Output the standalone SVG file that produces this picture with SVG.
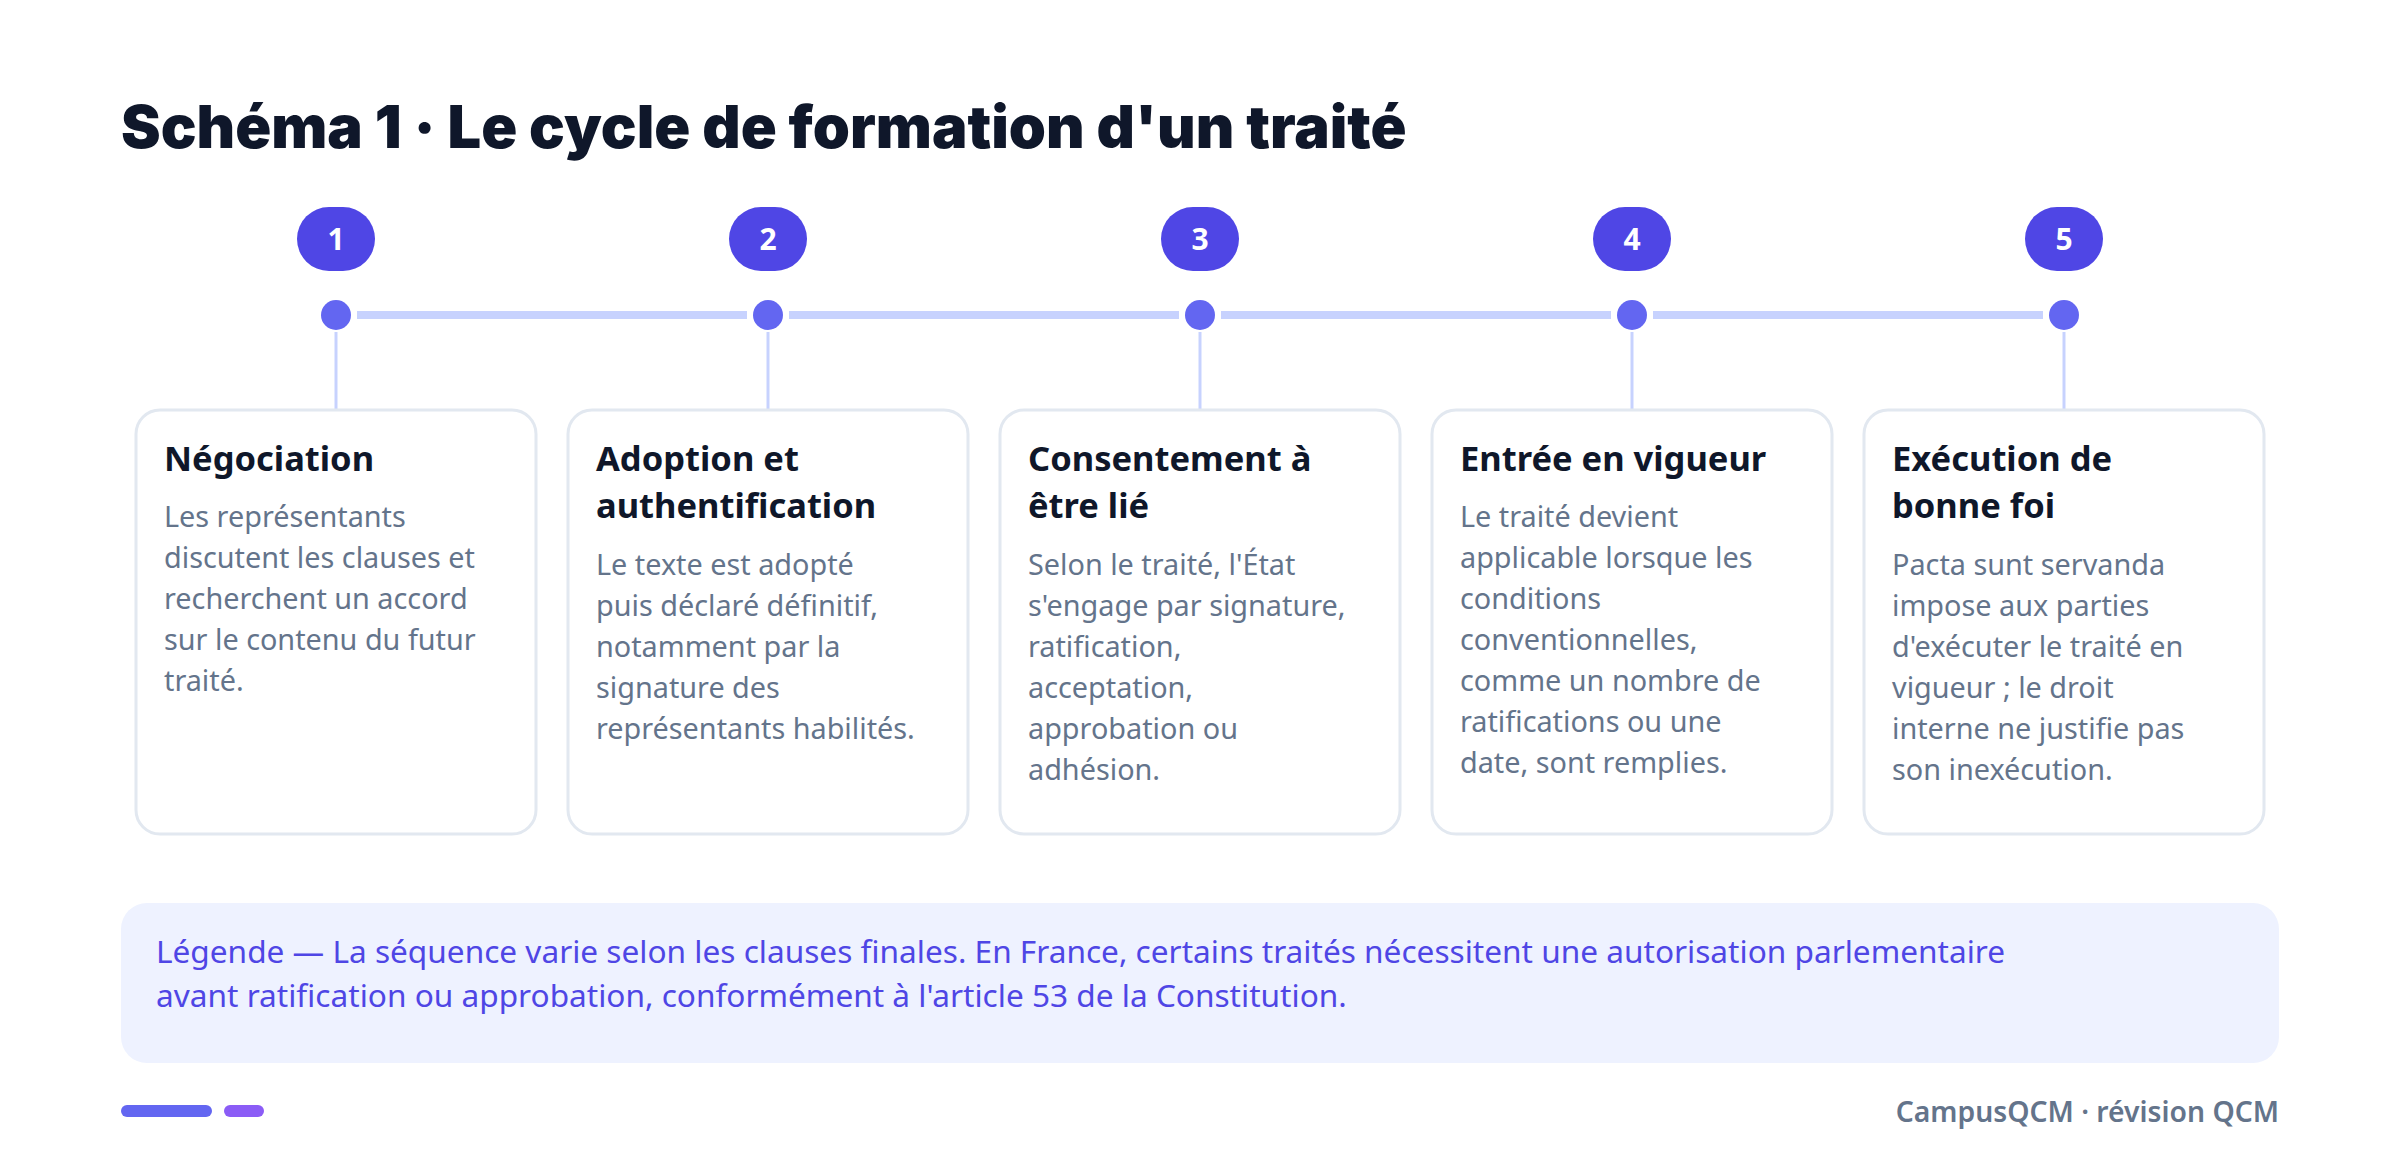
<svg xmlns="http://www.w3.org/2000/svg" width="2400" height="1172" viewBox="0 0 2400 1172">
<style>
.title{font-family:Inter,"Noto Sans",sans-serif;font-weight:900;font-size:59.5px;fill:#0f172a}
.badge{fill:#4f46e5}
.bnum{font-family:"Noto Sans",sans-serif;font-weight:700;font-size:30px;fill:#ffffff;text-anchor:middle}
.dot{fill:#6366f1}
.rail{stroke:#c7d2fe;stroke-width:8;fill:none}
.stem{stroke:#c7d2fe;stroke-width:3;fill:none}
.card{fill:#ffffff;stroke:#e2e8f0;stroke-width:3}
.ct{font-family:"Noto Sans",sans-serif;font-weight:700;font-size:34.5px;fill:#0f172a}
.cb{font-family:"Noto Sans",sans-serif;font-size:28.8px;fill:#64748b}
.leg{font-family:"Noto Sans",sans-serif;font-size:31.6px;fill:#4f46e5}
.foot{font-family:"Noto Sans",sans-serif;font-weight:600;font-size:28.3px;fill:#64748b;text-anchor:end}
</style>
<rect width="2400" height="1172" fill="#ffffff"/>
<text class="title" x="121" y="148">Schéma 1 · Le cycle de formation d'un traité</text>

<g id="connectors">
<line class="rail" x1="357" y1="315" x2="747" y2="315"/>
<line class="rail" x1="789" y1="315" x2="1179" y2="315"/>
<line class="rail" x1="1221" y1="315" x2="1611" y2="315"/>
<line class="rail" x1="1653" y1="315" x2="2043" y2="315"/>
<line class="stem" x1="336" y1="332" x2="336" y2="410"/>
<line class="stem" x1="768" y1="332" x2="768" y2="410"/>
<line class="stem" x1="1200" y1="332" x2="1200" y2="410"/>
<line class="stem" x1="1632" y1="332" x2="1632" y2="410"/>
<line class="stem" x1="2064" y1="332" x2="2064" y2="410"/>
</g>

<g id="step1">
<rect class="badge" x="297" y="207" width="78" height="64" rx="32"/>
<text class="bnum" x="336" y="250">1</text>
<circle class="dot" cx="336" cy="315" r="15"/>
<rect class="card" x="136" y="410" width="400" height="424" rx="24"/>
<text class="ct" x="164" y="471">Négociation</text>
<text class="cb" x="164" y="527">Les représentants</text>
<text class="cb" x="164" y="568">discutent les clauses et</text>
<text class="cb" x="164" y="609">recherchent un accord</text>
<text class="cb" x="164" y="650">sur le contenu du futur</text>
<text class="cb" x="164" y="691">traité.</text>
</g>

<g id="step2">
<rect class="badge" x="729" y="207" width="78" height="64" rx="32"/>
<text class="bnum" x="768" y="250">2</text>
<circle class="dot" cx="768" cy="315" r="15"/>
<rect class="card" x="568" y="410" width="400" height="424" rx="24"/>
<text class="ct" x="596" y="471">Adoption et</text>
<text class="ct" x="596" y="518">authentification</text>
<text class="cb" x="596" y="575">Le texte est adopté</text>
<text class="cb" x="596" y="616">puis déclaré définitif,</text>
<text class="cb" x="596" y="657">notamment par la</text>
<text class="cb" x="596" y="698">signature des</text>
<text class="cb" x="596" y="739">représentants habilités.</text>
</g>

<g id="step3">
<rect class="badge" x="1161" y="207" width="78" height="64" rx="32"/>
<text class="bnum" x="1200" y="250">3</text>
<circle class="dot" cx="1200" cy="315" r="15"/>
<rect class="card" x="1000" y="410" width="400" height="424" rx="24"/>
<text class="ct" x="1028" y="471">Consentement à</text>
<text class="ct" x="1028" y="518">être lié</text>
<text class="cb" x="1028" y="575">Selon le traité, l'État</text>
<text class="cb" x="1028" y="616">s'engage par signature,</text>
<text class="cb" x="1028" y="657">ratification,</text>
<text class="cb" x="1028" y="698">acceptation,</text>
<text class="cb" x="1028" y="739">approbation ou</text>
<text class="cb" x="1028" y="780">adhésion.</text>
</g>

<g id="step4">
<rect class="badge" x="1593" y="207" width="78" height="64" rx="32"/>
<text class="bnum" x="1632" y="250">4</text>
<circle class="dot" cx="1632" cy="315" r="15"/>
<rect class="card" x="1432" y="410" width="400" height="424" rx="24"/>
<text class="ct" x="1460" y="471">Entrée en vigueur</text>
<text class="cb" x="1460" y="527">Le traité devient</text>
<text class="cb" x="1460" y="568">applicable lorsque les</text>
<text class="cb" x="1460" y="609">conditions</text>
<text class="cb" x="1460" y="650">conventionnelles,</text>
<text class="cb" x="1460" y="691">comme un nombre de</text>
<text class="cb" x="1460" y="732">ratifications ou une</text>
<text class="cb" x="1460" y="773">date, sont remplies.</text>
</g>

<g id="step5">
<rect class="badge" x="2025" y="207" width="78" height="64" rx="32"/>
<text class="bnum" x="2064" y="250">5</text>
<circle class="dot" cx="2064" cy="315" r="15"/>
<rect class="card" x="1864" y="410" width="400" height="424" rx="24"/>
<text class="ct" x="1892" y="471">Exécution de</text>
<text class="ct" x="1892" y="518">bonne foi</text>
<text class="cb" x="1892" y="575">Pacta sunt servanda</text>
<text class="cb" x="1892" y="616">impose aux parties</text>
<text class="cb" x="1892" y="657">d'exécuter le traité en</text>
<text class="cb" x="1892" y="698">vigueur ; le droit</text>
<text class="cb" x="1892" y="739">interne ne justifie pas</text>
<text class="cb" x="1892" y="780">son inexécution.</text>
</g>

<g id="legend">
<rect x="121" y="903" width="2158" height="160" rx="26" fill="#eef2ff"/>
<text class="leg" x="156" y="963">Légende — La séquence varie selon les clauses finales. En France, certains traités nécessitent une autorisation parlementaire</text>
<text class="leg" x="156" y="1007">avant ratification ou approbation, conformément à l'article 53 de la Constitution.</text>
</g>

<g id="footer">
<rect x="121" y="1105" width="91" height="12" rx="6" fill="#6366f1"/>
<rect x="224" y="1105" width="40" height="12" rx="6" fill="#8b5cf6"/>
<text class="foot" x="2279" y="1122">CampusQCM · révision QCM</text>
</g>
</svg>
